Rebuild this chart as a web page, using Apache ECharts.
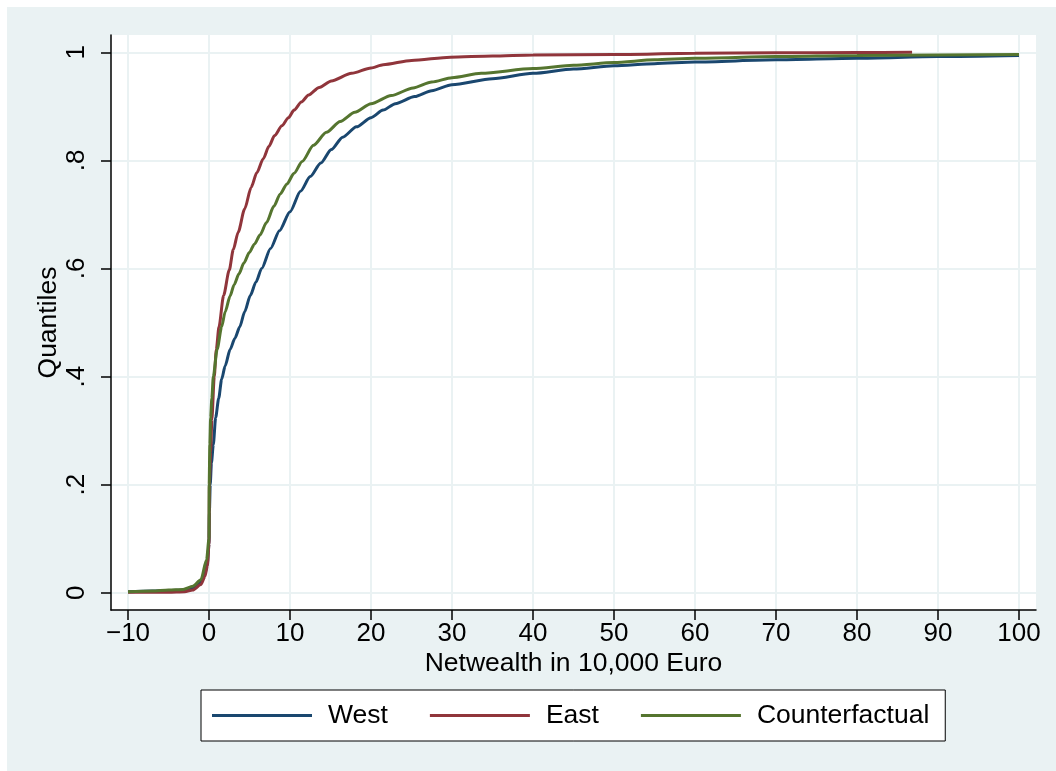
<!DOCTYPE html>
<html>
<head>
<meta charset="utf-8">
<script src="https://cdn.jsdelivr.net/npm/echarts@6/dist/echarts.min.js"></script>
<style>
  html, body { margin: 0; padding: 0; background: #ffffff; overflow: hidden; }
  #frame { position: absolute; left: 7px; top: 7px; width: 1049px; height: 764px; background: #EAF2F3; }
  #chart { width: 1049px; height: 764px; }
</style>
</head>
<body>
<div id="frame"><div id="chart"></div></div>
<script>
// Tick values and labels
const xTicks = [-10, 0, 10, 20, 30, 40, 50, 60, 70, 80, 90, 100];
const yTicks = [0, 0.2, 0.4, 0.6, 0.8, 1];
const yTickLabels = ['0', '.2', '.4', '.6', '.8', '1'];
const seriesNames = ['West', 'East', 'Counterfactual'];

// [netwealth (10,000 Euro), quantile]
const westData = [
  [-10,0.002],[-7,0.003],[-5,0.004],[-3,0.005],[-2,0.009],[-1,0.02],[-0.5,0.035],[-0.2,0.055],
  [0,0.09],[0.05,0.15],[0.15,0.2],[0.3,0.24],[0.53,0.274],[0.82,0.324],[1.2,0.36],[1.56,0.395],
  [2.0,0.42],[2.6,0.45],[3.2,0.471],[3.8,0.492],[4.4,0.52],[5.1,0.55],[5.8,0.575],[6.5,0.6],
  [7.6,0.637],[8.7,0.67],[10,0.705],[11.3,0.743],[12.5,0.77],[13.8,0.795],[15.1,0.82],[16.5,0.843],
  [18.2,0.862],[20,0.879],[21.5,0.893],[23,0.905],[25.4,0.918],[27.5,0.929],[30,0.94],[35,0.951],
  [40,0.961],[45,0.969],[50,0.975],[55,0.979],[60,0.982],[70,0.986],[80,0.989],[90,0.992],[100,0.994]
];
const eastData = [
  [-10,0.001],[-5,0.001],[-3,0.002],[-2,0.005],[-1,0.015],[-0.5,0.03],[-0.2,0.05],[0,0.09],
  [0.05,0.2],[0.2,0.26],[0.35,0.32],[0.65,0.4],[0.9,0.45],[1.23,0.492],[1.8,0.55],[2.5,0.597],
  [3.0,0.635],[3.6,0.667],[4.4,0.71],[5.2,0.75],[5.9,0.777],[6.7,0.803],[7.4,0.826],[8.1,0.846],
  [9.0,0.864],[9.8,0.879],[10.5,0.893],[11.4,0.908],[12.3,0.921],[13.6,0.935],[15.1,0.947],
  [17.6,0.961],[20,0.971],[21.5,0.977],[25,0.985],[29.8,0.991],[35,0.993],[40,0.995],
  [50,0.996],[60,0.998],[70,0.999],[80,0.9995],[86.8,1.0]
];
const counterfactualData = [
  [-10,0.002],[-7,0.003],[-5,0.005],[-3.2,0.006],[-2,0.012],[-1,0.024],[-0.3,0.061],[0,0.1],
  [0.02,0.2],[0.1,0.274],[0.2,0.324],[0.35,0.36],[0.53,0.4],[1,0.45],[1.56,0.492],[2.0,0.52],
  [2.6,0.549],[3.1,0.57],[3.7,0.59],[4.3,0.61],[5,0.63],[5.6,0.645],[6.3,0.662],[7.1,0.685],
  [8.0,0.715],[8.8,0.738],[9.6,0.756],[10.5,0.776],[11.5,0.798],[12.9,0.828],[14.5,0.852],
  [16.2,0.872],[18.0,0.889],[20,0.905],[22.5,0.92],[25.2,0.934],[27.5,0.945],[30,0.953],
  [33.6,0.961],[40,0.970],[45,0.976],[50,0.981],[55,0.986],[60,0.989],[70,0.992],[80,0.994],
  [90,0.995],[100,0.996]
];

const FONT = "'Liberation Sans', Arial, Helvetica, sans-serif";
const colors = ['#1A476F', '#90353B', '#55752F'];
const dataSets = [westData, eastData, counterfactualData];

const chart = echarts.init(document.getElementById('chart'), null, { renderer: 'canvas' });
chart.setOption({
  animation: false,
  backgroundColor: 'transparent',
  textStyle: { fontFamily: FONT },
  grid: {
    left: 104, top: 28, right: 20, bottom: 161,
    show: true, backgroundColor: '#ffffff', borderWidth: 0
  },
  legend: {
    data: seriesNames,
    left: 194, top: 683,
    orient: 'horizontal',
    icon: 'rect',
    itemWidth: 100, itemHeight: 3,
    itemGap: 42,
    padding: [12, 16, 12, 11],
    backgroundColor: '#ffffff',
    borderColor: '#000000', borderWidth: 1, borderRadius: 0,
    textStyle: { fontSize: 26.5, color: '#000', fontFamily: FONT, padding: [0, 0, 0, 11] }
  },
  xAxis: {
    type: 'value',
    min: -12.1, max: 102.1,
    name: 'Netwealth in 10,000 Euro',
    nameLocation: 'middle',
    nameGap: 40,
    nameMoveOverlap: false,
    nameTextStyle: { fontSize: 26.5, color: '#000', fontFamily: FONT },
    axisLine: { show: true, onZero: false, lineStyle: { color: '#000', width: 1.5 } },
    axisTick: { show: true, customValues: xTicks, length: 10, lineStyle: { color: '#000', width: 1.5 } },
    axisLabel: {
      customValues: xTicks, fontSize: 26, color: '#000', margin: 11, fontFamily: FONT,
      formatter: v => (v < 0 ? '\u2212' + Math.abs(v) : String(v))
    },
    splitLine: { show: true, lineStyle: { color: '#EAF2F3', width: 2 } }
  },
  yAxis: {
    type: 'value',
    min: -0.032, max: 1.032,
    name: 'Quantiles',
    nameLocation: 'middle',
    nameGap: 49,
    nameMoveOverlap: false,
    nameTextStyle: { fontSize: 26.5, color: '#000', fontFamily: FONT },
    axisLine: { show: true, onZero: false, lineStyle: { color: '#000', width: 1.5 } },
    axisTick: { show: true, customValues: yTicks, length: 10, lineStyle: { color: '#000', width: 1.5 } },
    axisLabel: {
      customValues: yTicks, rotate: 90, fontSize: 26, color: '#000', margin: 21, fontFamily: FONT,
      formatter: v => {
        const i = yTicks.findIndex(t => Math.abs(t - v) < 1e-9);
        return i >= 0 ? yTickLabels[i] : '';
      }
    },
    splitLine: { show: true, lineStyle: { color: '#EAF2F3', width: 2 } }
  },
  series: seriesNames.map((name, i) => ({
    name: name,
    type: 'line',
    data: dataSets[i],
    showSymbol: false,
    symbol: 'none',
    smooth: 0.25,
    smoothMonotone: 'x',
    color: colors[i],
    lineStyle: { color: colors[i], width: 3 },
    itemStyle: { color: colors[i] },
    z: 2 + i
  }))
});
</script>
</body>
</html>
